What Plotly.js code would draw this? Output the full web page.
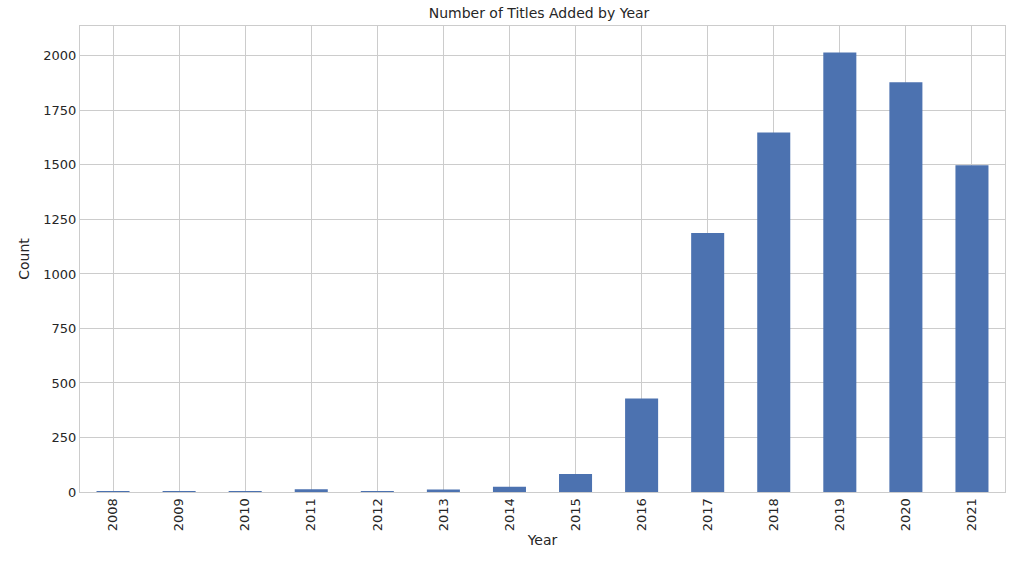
<!DOCTYPE html>
<html>
<head>
<script src="https://cdn.plot.ly/plotly-3.0.1.min.js"></script>
<style>body{margin:0;background:#fff}</style>
</head>
<body>
<div id="chart" style="width:1017px;height:570px"></div>
<script>
const years = ["2008","2009","2010","2011","2012","2013","2014","2015","2016","2017","2018","2019","2020","2021"];
const counts = [2, 2, 1, 13, 3, 11, 24, 82, 429, 1188, 1649, 2016, 1879, 1498];

const grid = "#cccccc";
Plotly.newPlot("chart", [{
    x: years,
    y: counts,
    type: "bar",
    width: 0.5,
    marker: {color: "#4c72b0"},
    hoverinfo: "x+y"
}], {
    width: 1017, height: 570,
    margin: {l: 80, r: 12, t: 26, b: 78},
    font: {family: "DejaVu Sans, sans-serif", size: 13, color: "#262626"},
    title: {text: "Number of Titles Added by Year", font: {size: 14}, x: 0.53, y: 0.985, yanchor: "top"},
    plot_bgcolor: "#fff", paper_bgcolor: "#fff",
    xaxis: {
        type: "category", tickangle: -90, showgrid: true, gridcolor: grid,
        showline: true, linecolor: grid, mirror: true, ticks: "",
        title: {text: "Year", font: {size: 14}, standoff: 4}
    },
    yaxis: {
        range: [0, 2137], tickvals: [0, 250, 500, 750, 1000, 1250, 1500, 1750, 2000],
        gridcolor: grid, showline: true, linecolor: grid, mirror: true, zeroline: false,
        ticks: "", title: {text: "Count", font: {size: 14}, standoff: 10}
    },
    bargap: 0.5
}, {displayModeBar: false});
</script>
</body>
</html>
